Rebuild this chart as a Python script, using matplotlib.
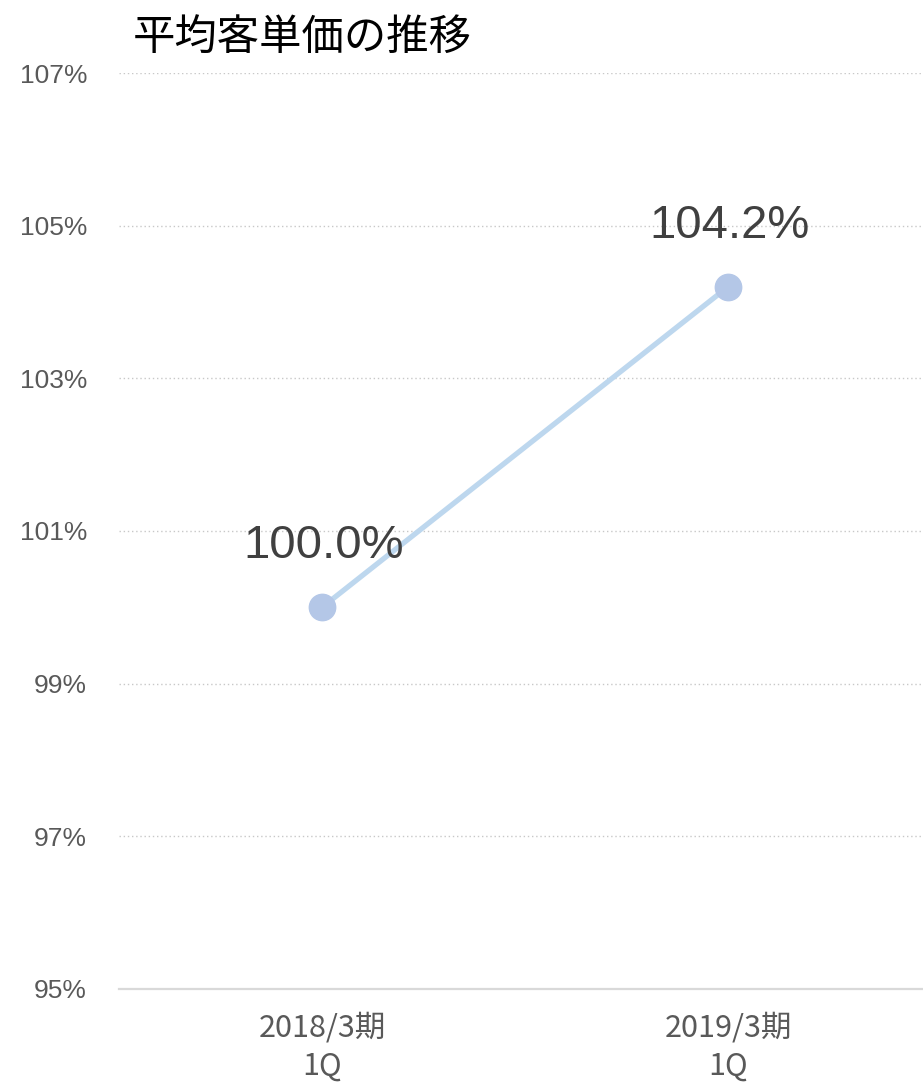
import matplotlib.pyplot as plt

plt.rcParams['font.family'] = ['Liberation Sans', 'Noto Sans CJK JP', 'DejaVu Sans']

periods = ['2018/3期\n1Q', '2019/3期\n1Q']
values = [100.0, 104.2]
labels = ['100.0%', '104.2%']
yticks = [95, 97, 99, 101, 103, 105, 107]

fig = plt.figure(figsize=(9.23, 10.86), dpi=100)
ax = fig.add_axes([119 / 923, 97 / 1086, 804 / 923, 916 / 1086])

x = list(range(len(values)))
ax.plot(x, values, color='#bdd7ee', lw=3.8, zorder=2, solid_capstyle='round')
ax.plot(x, values, 'o', color='#b4c7e7', ms=19, zorder=3)

for xi, v, lab in zip(x, values, labels):
    ax.annotate(lab, (xi, v), xytext=(1, 44), textcoords='offset points',
                ha='center', va='center', fontsize=34, color='#404040', zorder=4)

ax.set_xlim(-0.5, 1.48)
ax.set_ylim(95, 107)
ax.set_yticks(yticks)
ax.set_yticklabels([f'{t}%' for t in yticks], fontsize=19, color='#595959')
ax.set_xticks(x)
ax.set_xticklabels(periods, fontsize=22, color='#595959',
                   family=['Noto Sans CJK JP', 'DejaVu Sans'], linespacing=1.3)
ax.tick_params(axis='y', length=0, pad=23)
ax.tick_params(axis='x', length=0, pad=17)

for t in yticks[1:]:
    ax.axhline(t, color='#c8c8c8', lw=1, ls=(0, (1, 2)), zorder=1)

for s in ['top', 'right', 'left']:
    ax.spines[s].set_visible(False)
ax.spines['bottom'].set_color('#d9d9d9')
ax.spines['bottom'].set_linewidth(1.6)

fig.text(133 / 923, 1 - 38 / 1086, '平均客単価の推移', fontsize=30.5, color='black',
         va='center', ha='left', family=['Noto Sans CJK JP', 'DejaVu Sans'])

fig.savefig('out.png', dpi=100)
